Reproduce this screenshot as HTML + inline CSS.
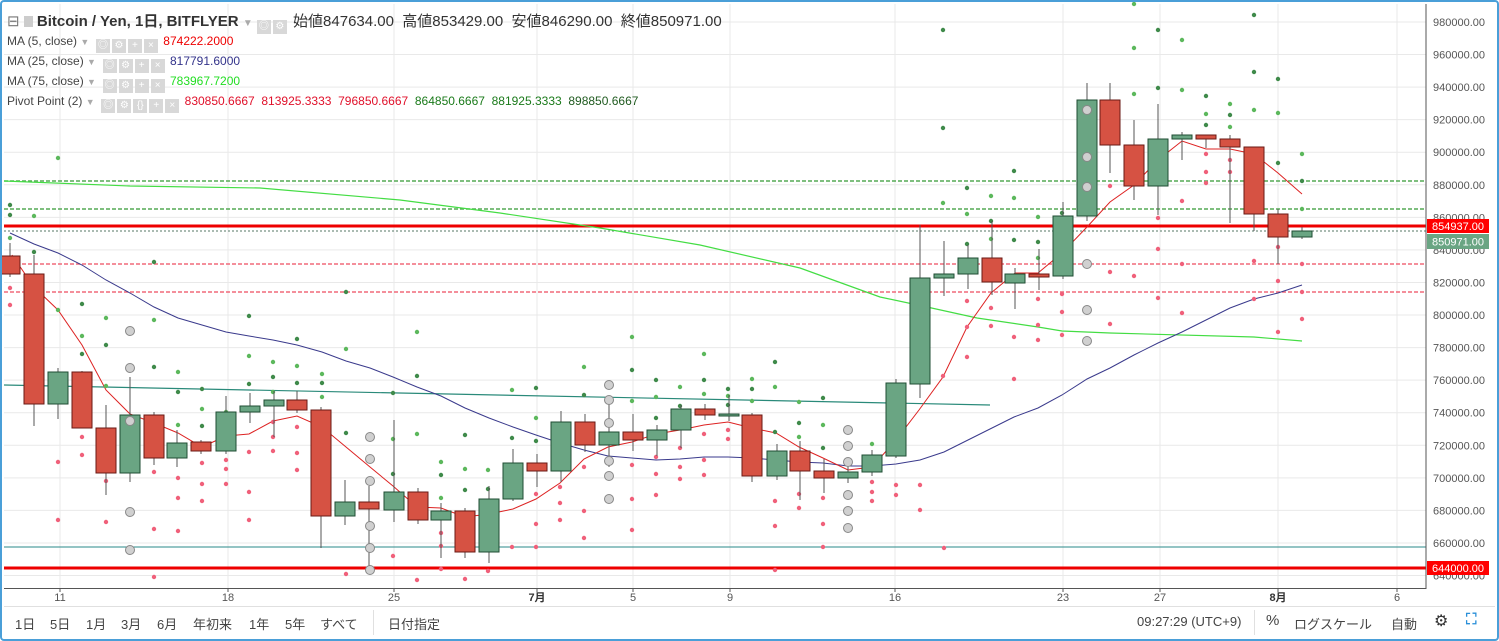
<!DOCTYPE html>
<html><head><meta charset="utf-8">
<style>
html,body{margin:0;padding:0;background:#fff;}
body{width:1499px;height:641px;position:relative;overflow:hidden;font-family:"Liberation Sans","Noto Sans CJK JP",sans-serif;}
#frame{position:absolute;left:0;top:0;width:1495px;height:637px;border:2px solid #4a9fd8;border-radius:4px;}
.t{position:absolute;white-space:nowrap;}
.lg{font-size:12px;color:#444;}
.ic{display:inline-block;width:14px;height:14px;background:#d8d8d8;margin-right:2px;vertical-align:-3px;color:#fff;font-size:10px;text-align:center;line-height:14px;}
.bt{font-size:13px;color:#444;top:614px;}
</style></head><body>
<svg id="s" width="1499" height="641" style="position:absolute;left:0;top:0">
<g id="grid"></g>
<g id="lines"></g>
<g id="dots"></g>
<g id="candles"></g>
<g id="axis">
<line x1="1426" y1="4" x2="1426" y2="589" stroke="#555" stroke-width="1"/>
<line x1="4" y1="588.5" x2="1426" y2="588.5" stroke="#555" stroke-width="1"/>
<line x1="4" y1="606.5" x2="1495" y2="606.5" stroke="#e0e0e0" stroke-width="1"/>
<line x1="373.5" y1="610" x2="373.5" y2="635" stroke="#e0e0e0"/>
<line x1="1254.5" y1="610" x2="1254.5" y2="635" stroke="#e0e0e0"/>
<g font-family="Liberation Sans, sans-serif" font-size="11" fill="#555" id="ylab"></g>
<g font-family="Liberation Sans, Noto Sans CJK JP, sans-serif" font-size="11" fill="#555" text-anchor="middle">
<text x="60" y="601">11</text><text x="228" y="601">18</text><text x="394" y="601">25</text>
<text x="537" y="601" font-weight="bold" fill="#333">7月</text><text x="633" y="601">5</text><text x="730" y="601">9</text>
<text x="895" y="601">16</text><text x="1063" y="601">23</text><text x="1160" y="601">27</text>
<text x="1278" y="601" font-weight="bold" fill="#333">8月</text><text x="1397" y="601">6</text>
</g>
<rect x="1427" y="219" width="62" height="14" fill="#ff0000"/>
<text x="1432" y="230" font-size="11" fill="#fff" font-family="Liberation Sans, sans-serif">854937.00</text>
<rect x="1427" y="234" width="62" height="15" fill="#6aa583"/>
<text x="1432" y="245.5" font-size="11" fill="#fff" font-family="Liberation Sans, sans-serif">850971.00</text>
<rect x="1427" y="561" width="62" height="14" fill="#ff0000"/>
<text x="1432" y="572" font-size="11" fill="#fff" font-family="Liberation Sans, sans-serif">644000.00</text>
</g>
</svg>
<div id="frame"></div>
<div class="t" style="left:7px;top:10px;font-size:15px;color:#333">
<span style="color:#777">⊟</span> <span style="display:inline-block;width:9px;height:11px;background:#ccc;vertical-align:-1px"></span> <b style="font-weight:bold;color:#333">Bitcoin / Yen, 1日, BITFLYER</b> <span style="color:#aaa;font-size:10px">▼</span>
<span class="ic">◎</span><span class="ic">⚙</span> 始値847634.00 &nbsp;高値853429.00 &nbsp;安値846290.00 &nbsp;終値850971.00</div>
<div class="t lg" style="left:7px;top:34px">MA (5, close) <span style="color:#aaa;font-size:9px">▼</span> &nbsp;<span class="ic">◎</span><span class="ic">⚙</span><span class="ic">+</span><span class="ic">×</span> <span style="color:#e00">874222.2000</span></div>
<div class="t lg" style="left:7px;top:54px">MA (25, close) <span style="color:#aaa;font-size:9px">▼</span> &nbsp;<span class="ic">◎</span><span class="ic">⚙</span><span class="ic">+</span><span class="ic">×</span> <span style="color:#33338a">817791.6000</span></div>
<div class="t lg" style="left:7px;top:74px">MA (75, close) <span style="color:#aaa;font-size:9px">▼</span> &nbsp;<span class="ic">◎</span><span class="ic">⚙</span><span class="ic">+</span><span class="ic">×</span> <span style="color:#22dd22">783967.7200</span></div>
<div class="t lg" style="left:7px;top:94px">Pivot Point (2) <span style="color:#aaa;font-size:9px">▼</span> &nbsp;<span class="ic">◎</span><span class="ic">⚙</span><span class="ic">{}</span><span class="ic">+</span><span class="ic">×</span> <span style="color:#e0102a">830850.6667 &nbsp;813925.3333 &nbsp;796850.6667</span> &nbsp;<span style="color:#1a7a1a">864850.6667 &nbsp;881925.3333</span> &nbsp;<span style="color:#1f5a1f">898850.6667</span></div>
<div class="t bt" style="left:15px">1日</div><div class="t bt" style="left:50px">5日</div><div class="t bt" style="left:86px">1月</div>
<div class="t bt" style="left:121px">3月</div><div class="t bt" style="left:157px">6月</div><div class="t bt" style="left:193px">年初来</div>
<div class="t bt" style="left:249px">1年</div><div class="t bt" style="left:285px">5年</div><div class="t bt" style="left:320px">すべて</div>
<div class="t bt" style="left:388px">日付指定</div>
<div class="t bt" style="left:1137px">09:27:29 (UTC+9)</div>
<div class="t bt" style="left:1266px;font-size:15px;top:612px">%</div>
<div class="t bt" style="left:1294px">ログスケール</div>
<div class="t bt" style="left:1391px">自動</div>
<div class="t bt" style="left:1434px;font-size:16px;top:611px;color:#333">⚙</div>
<div class="t bt" style="left:1466px;font-size:15px;top:611px;color:#2a8fd8;font-weight:bold">⛶</div>
<script>
var NS="http://www.w3.org/2000/svg";
function el(p,n,a){var e=document.createElementNS(NS,n);for(var k in a)e.setAttribute(k,a[k]);document.getElementById(p).appendChild(e);return e;}
for(var k=0;k<18;k++){var y=22+k*32.56;if(y>588)break;el('grid','line',{x1:4,x2:1426,y1:y,y2:y,stroke:'#e9e9e9'});
 var t=el('ylab','text',{x:1433,y:y+4});t.textContent=(980000-k*20000)+'.00';}
[60,228,394,537,633,730,895,1063,1160,1278,1397].forEach(function(x){el('grid','line',{x1:x,x2:x,y1:4,y2:588,stroke:'#e9e9e9'});el('grid','line',{x1:x,x2:x,y1:588,y2:592,stroke:'#555'});});
el('lines','line',{x1:4,x2:1426,y1:547,y2:547,stroke:'#2a8a8a','stroke-width':1});
el('lines','line',{x1:4,x2:990,y1:385,y2:405,stroke:'#2a8a7a','stroke-width':1.2});
el('lines','line',{x1:4,x2:1426,y1:181,y2:181,stroke:'#55aa55','stroke-width':1.5,'stroke-dasharray':'4,2'});
el('lines','line',{x1:4,x2:1426,y1:209,y2:209,stroke:'#55aa55','stroke-width':1.5,'stroke-dasharray':'4,2'});
el('lines','line',{x1:4,x2:1426,y1:264,y2:264,stroke:'#f06a7a','stroke-width':1.5,'stroke-dasharray':'4,2'});
el('lines','line',{x1:4,x2:1426,y1:292,y2:292,stroke:'#f06a7a','stroke-width':1.5,'stroke-dasharray':'4,2'});
el('lines','line',{x1:4,x2:1426,y1:231,y2:231,stroke:'#557766','stroke-width':1,'stroke-dasharray':'2,2'});
el('lines','line',{x1:4,x2:1426,y1:226,y2:226,stroke:'#ee0000','stroke-width':3});
el('lines','line',{x1:4,x2:1426,y1:568,y2:568,stroke:'#ee0000','stroke-width':3});
function pl(pts,c,w){el('lines','polyline',{points:pts,fill:'none',stroke:c,'stroke-width':w});}
pl("4,181 130,186 260,188 400,200 500,213 600,228 700,245 800,268 880,297 927,307 977,318 1038,327 1062,331 1110,333 1254,337 1302,341",'#44dd44',1.2);
pl("10,233 34,244 58,253 82,265 106,280 130,293 154,307 178,318 226,332 249,336 273,340 297,345 322,352 346,361 370,368 393,377 417,387 441,396 465,408 489,418 513,427 536,435 560,443 584,450 608,456 632,458 656,460 680,459 704,457 728,457 752,458 776,460 799,462 823,463 848,466 872,466 896,464 920,460 944,452 968,440 992,428 1014,417 1038,408 1062,395 1087,379 1110,368 1134,355 1158,343 1182,332 1206,320 1230,308 1254,299 1278,293 1302,285",'#3a3a8c',1);
pl("12,255 34,287 58,310 82,345 106,390 130,414 154,423 178,433 202,447 226,436 249,434 273,421 297,416 322,427 346,447 370,467 393,486 417,507 441,508 465,517 489,514 513,509 536,499 560,483 584,459 608,447 632,442 656,434 680,430 704,425 728,422 752,428 776,433 799,447 823,458 848,470 872,467 896,440 919,410 943,377 967,327 991,293 1015,273 1038,273 1062,253 1087,227 1110,202 1134,185 1158,160 1182,141 1206,149 1230,149 1254,154 1278,173 1302,194",'#dd2222',1);
var G="10,238 34,252 58,310 82,304 82,336 82,354 106,318 106,345 106,386 154,262 154,320 154,367 178,372 178,392 178,425 202,389 202,409 202,426 226,412 226,420 226,435 249,316 249,356 249,384 273,362 273,377 273,392 297,339 297,366 297,383 322,374 322,383 322,397 346,292 346,349 346,433 417,332 417,376 417,434 393,393 393,439 393,474 441,462 441,475 441,498 465,435 465,469 465,490 488,470 488,489 512,390 512,438 512,468 536,388 536,418 536,441 584,367 584,395 632,337 632,370 632,401 656,380 656,397 656,418 680,387 680,406 704,354 704,380 704,394 728,389 728,396 728,405 752,379 752,389 752,401 775,362 775,387 775,432 799,402 799,423 799,437 823,398 823,425 823,448 872,444 943,128 943,203 967,188 967,214 967,244 991,196 991,221 991,239 1014,171 1014,198 1014,240 1038,217 1038,242 1038,258 1062,213 1134,94 1158,88 1182,90 1206,96 1206,114 1206,125 1230,104 1230,115 1230,127 1254,72 1254,110 1278,79 1278,113 1278,163 1302,154 1302,181 1302,209 943,30 1134,48 1158,30 1182,40 1254,15 58,158 10,205 34,216 10,215 1134,4";
var P="10,272 10,288 10,305 34,287 34,301 34,323 58,462 58,520 82,404 82,437 82,455 106,454 106,481 106,522 154,472 154,529 154,577 178,478 178,498 178,531 202,463 202,484 202,501 226,460 226,469 226,484 249,452 249,492 249,520 273,422 273,437 273,451 297,427 297,453 297,470 322,419 322,428 322,441 346,574 393,556 417,580 441,533 441,546 441,569 465,579 488,571 512,547 536,494 536,524 536,547 560,487 560,503 560,520 584,467 584,511 584,538 632,465 632,499 632,530 656,457 656,474 656,495 680,448 680,467 680,479 704,434 704,460 704,475 728,430 728,439 775,501 775,526 775,570 799,494 799,508 823,498 823,524 823,547 872,482 872,492 872,501 896,485 896,495 920,485 920,510 943,376 944,548 967,301 967,327 967,357 991,308 991,326 1014,337 1014,379 1038,299 1038,325 1038,340 1062,294 1062,312 1062,335 1110,186 1110,272 1110,324 1134,276 1158,218 1158,249 1158,298 1182,201 1182,264 1182,313 1206,154 1206,172 1206,183 1230,160 1230,172 1254,261 1254,299 1278,247 1278,281 1278,332 1302,264 1302,292 1302,319";
var C="130,331 130,368 130,421 130,512 130,550 370,437 370,459 370,481 370,526 370,548 370,570 609,385 609,400 609,423 609,461 609,476 609,499 848,430 848,446 848,462 848,495 848,511 848,528 1087,110 1087,157 1087,187 1087,264 1087,310 1087,341";
G.split(' ').forEach(function(p,i){var a=p.split(',');el('dots','circle',{cx:a[0],cy:a[1],r:2.2,fill:i%2?'#3f8a4a':'#5cb85c'});});
P.split(' ').forEach(function(p){var a=p.split(',');el('dots','circle',{cx:a[0],cy:a[1],r:2.2,fill:'#f0607a'});});
var D=[[10,243,277,256,274,'r'],[34,255,426,274,404,'r'],[58,368,419,372,404,'g'],[82,371,428,372,428,'r'],[106,405,495,428,473,'r'],[130,377,482,415,473,'g'],[154,412,465,415,458,'r'],[177,430,467,443,458,'g'],[201,440,454,442,451,'r'],[226,396,454,412,451,'g'],[250,393,423,406,412,'g'],[274,391,437,400,406,'g'],[297,391,413,400,410,'r'],[321,407,548,410,516,'r'],[345,480,525,502,516,'g'],[369,486,566,502,509,'r'],[394,420,522,492,510,'g'],[418,488,524,492,520,'r'],[441,503,558,511,520,'g'],[465,508,558,511,552,'r'],[489,486,563,499,552,'g'],[513,449,501,463,499,'g'],[537,454,487,463,471,'r'],[561,411,482,422,471,'g'],[585,414,452,422,445,'r'],[609,403,467,432,445,'g'],[633,414,451,432,440,'r'],[657,425,456,430,440,'g'],[681,405,448,409,430,'g'],[705,404,420,409,415,'r'],[729,395,421,414,416,'g'],[752,413,482,415,476,'r'],[777,444,480,451,476,'g'],[800,441,500,451,471,'r'],[824,459,493,471,478,'r'],[848,465,483,472,478,'g'],[872,450,476,455,472,'g'],[896,379,458,383,456,'g'],[920,225,398,278,384,'g'],[944,241,296,274,278,'g'],[968,245,289,258,274,'g'],[992,221,295,258,282,'r'],[1015,268,309,274,283,'g'],[1039,249,290,274,277,'r'],[1063,202,279,216,276,'g'],[1087,83,221,100,216,'g'],[1110,83,173,100,145,'r'],[1134,120,200,145,186,'r'],[1158,104,215,139,186,'g'],[1182,132,160,135,139,'g'],[1206,135,148,135,139,'r'],[1230,135,223,139,147,'r'],[1254,147,231,147,214,'r'],[1278,209,264,214,237,'r'],[1302,227,239,231,237,'g']];
D.forEach(function(d){el('candles','line',{x1:d[0],x2:d[0],y1:d[1],y2:d[2],stroke:'#555','stroke-width':1});
 var h=Math.max(d[4]-d[3],1.5);
 el('candles','rect',{x:d[0]-10,y:d[3],width:20,height:h,fill:d[5]=='r'?'#d65243':'#6aa583',stroke:d[5]=='r'?'#6a1a14':'#1f4d33','stroke-width':1});});
C.split(' ').forEach(function(p){var a=p.split(',');el('candles','circle',{cx:a[0],cy:a[1],r:4.5,fill:'#d0d0d0',stroke:'#888','stroke-width':1});});
</script>
</body></html>
